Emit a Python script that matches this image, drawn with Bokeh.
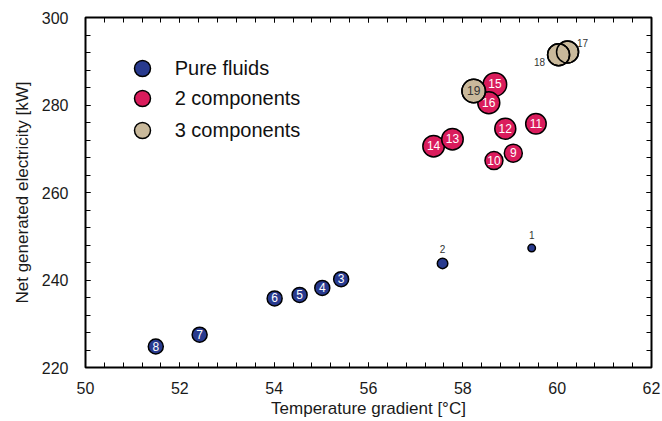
from bokeh.plotting import figure
from bokeh.models import Range1d, LinearAxis, FixedTicker, Legend, LegendItem, ColumnDataSource
from bokeh.core.properties import value
from bokeh.embed import file_html
from bokeh.resources import INLINE

# ---------------- data ----------------
pure_ids = [1, 2, 3, 4, 5, 6, 7, 8]
pure_temp = [59.46, 57.57, 55.42, 55.02, 54.54, 54.01, 52.42, 51.49]
pure_power = [247.3, 243.8, 240.2, 238.2, 236.6, 235.8, 227.5, 224.8]

two_ids = [9, 10, 11, 12, 14, 13, 15, 16]
two_temp = [59.07, 58.66, 59.55, 58.90, 57.38, 57.78, 58.68, 58.55]
two_power = [269.0, 267.3, 275.7, 274.6, 270.6, 272.2, 284.7, 280.5]

three_ids = [17, 18, 19]
three_temp = [60.22, 60.03, 58.23]
three_power = [292.1, 291.5, 283.2]

group_labels = ["Pure fluids", "2 components", "3 components"]
x_ticks = [50, 52, 54, 56, 58, 60, 62]
y_ticks = [220, 240, 260, 280, 300]

# ---------------- styles ----------------
pure_size = [7.5, 10.5, 15, 15, 15, 15, 15, 15]
two_size = [18, 18, 20.5, 21, 21.5, 21.5, 23.5, 22]
three_size = [22, 22, 23.5]
colors = ["#283a8e", "#da1c5c", "#c9b99b"]
outside_offsets = {1: (0, -13), 2: (0, -14), 17: (15, -9), 18: (-19, 7)}
FONT = "Liberation Sans"

p = figure(width=662, height=421, output_backend="svg", toolbar_location=None,
           x_range=Range1d(50, 62), y_range=Range1d(220, 300),
           min_border_left=85, min_border_right=11, min_border_top=17, min_border_bottom=54)
p.grid.visible = False
p.outline_line_color = "black"
p.outline_line_width = 2
p.background_fill_color = "white"
p.border_fill_color = "white"

xt = FixedTicker(ticks=x_ticks, minor_ticks=[50 + 0.4 * i for i in range(31)])
yt = FixedTicker(ticks=y_ticks, minor_ticks=[220 + 4 * i for i in range(21)])

bottom_ax = p.xaxis[0]
left_ax = p.yaxis[0]
bottom_ax.ticker = xt
left_ax.ticker = yt
top_ax = LinearAxis(ticker=xt)
right_ax = LinearAxis(ticker=yt)
p.add_layout(top_ax, "above")
p.add_layout(right_ax, "right")

for ax in [bottom_ax, left_ax, top_ax, right_ax]:
    ax.axis_line_color = None
    ax.major_tick_in = 5
    ax.major_tick_out = 0
    ax.minor_tick_in = 5
    ax.minor_tick_out = 0
    ax.major_tick_line_color = "black"
    ax.minor_tick_line_color = "black"
    ax.major_label_text_font = FONT
    ax.major_label_text_font_size = "16px"
    ax.major_label_text_color = "#1a1a1a"
    ax.axis_label_text_font = FONT
    ax.axis_label_text_font_size = "17px"
    ax.axis_label_text_font_style = "normal"
    ax.axis_label_text_color = "#1a1a1a"

for ax in [top_ax, right_ax]:
    ax.major_label_text_color = None
    ax.major_label_text_font_size = "1px"
    ax.major_label_standoff = 0

bottom_ax.axis_label = "Temperature gradient [°C]"
bottom_ax.major_label_standoff = 14
bottom_ax.axis_label_standoff = 2
left_ax.axis_label = "Net generated electricity [kW]"
left_ax.major_label_standoff = 17
left_ax.axis_label_standoff = 7

groups = [
    (pure_ids, pure_temp, pure_power, pure_size, colors[0], "white"),
    (two_ids, two_temp, two_power, two_size, colors[1], "white"),
    (three_ids, three_temp, three_power, three_size, colors[2], "#333333"),
]

renderers = []
for ids, xs, ys, sz, col, txtcol in groups:
    src = ColumnDataSource(dict(x=xs, y=ys, size=sz))
    r = p.scatter("x", "y", size="size", source=src, fill_color=col,
                  line_color="black", line_width=1.5)
    renderers.append(r)
    if col == colors[2]:
        p.scatter("x", "y", size="size", source=src, fill_color=None,
                  line_color="black", line_width=1.5)
    inside = [i for i in range(len(ids)) if ids[i] not in outside_offsets]
    isrc = ColumnDataSource(dict(x=[xs[i] for i in inside], y=[ys[i] for i in inside],
                                 t=[str(ids[i]) for i in inside]))
    p.text("x", "y", text="t", source=isrc, text_color=txtcol,
           text_font=value(FONT), text_font_size="12px",
           text_align="center", text_baseline="middle", y_offset=-0.5)

# outside labels
ox, oy, ot, odx, ody = [], [], [], [], []
for ids, xs, ys, *_ in groups:
    for i, pid in enumerate(ids):
        if pid in outside_offsets:
            ox.append(xs[i]); oy.append(ys[i]); ot.append(str(pid))
            odx.append(outside_offsets[pid][0]); ody.append(outside_offsets[pid][1])
osrc = ColumnDataSource(dict(x=ox, y=oy, t=ot, dx=odx, dy=ody))
p.text("x", "y", text="t", source=osrc, x_offset="dx", y_offset="dy",
       text_color="#333333", text_font=value(FONT), text_font_size="10px",
       text_align="center", text_baseline="middle")

legend_bottoms = [278.7, 248.7, 217]
for lab, r, vy in zip(group_labels, renderers, legend_bottoms):
    lg = Legend(items=[LegendItem(label=lab, renderers=[r])], location=(36.7, vy),
                glyph_width=40, glyph_height=40, label_standoff=13,
                label_text_font=FONT, label_text_font_size="20px",
                label_text_color="#111111", padding=0, margin=0, spacing=0,
                border_line_color=None, background_fill_alpha=0)
    p.add_layout(lg)

open("out.html", "w").write(file_html(p, INLINE))
